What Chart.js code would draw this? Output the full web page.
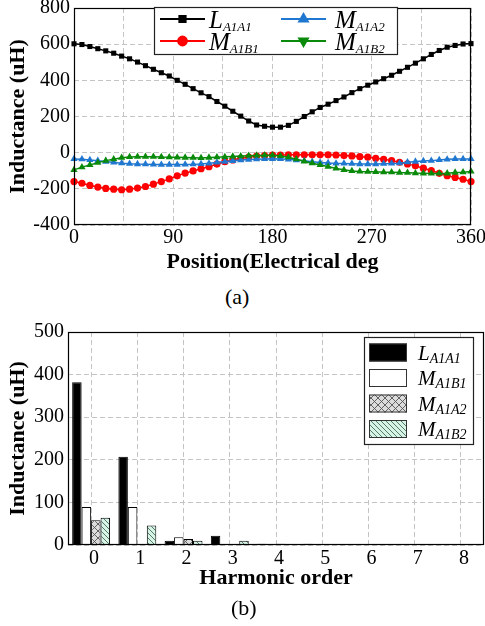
<!DOCTYPE html>
<html>
<head>
<meta charset="utf-8">
<script src="https://cdn.jsdelivr.net/npm/chart.js@4.4.1/dist/chart.umd.min.js"></script>
<style>
  body { margin: 0; background: #fff; }
  #wrap { position: relative; width: 485px; height: 626px; font-family: 'Liberation Serif', serif; }
  canvas { position: absolute; left: 0; }
  .cap { position: absolute; font-size: 22px; color: #000; line-height: 24px; }
</style>
</head>
<body>
<div id="wrap">
  <canvas id="lineChart" width="485" height="282" style="top:0"></canvas>
  <div class="cap" style="left:225px;top:285px">(a)</div>
  <canvas id="barChart" width="485" height="326" style="top:300px"></canvas>
  <div class="cap" style="left:231px;top:596px">(b)</div>
</div>
<script>
// rotor position, electrical degrees
const positions = [0, 7.2, 14.4, 21.6, 28.8, 36, 43.2, 50.4, 57.6, 64.8, 72, 79.2, 86.4, 93.6, 100.8,
  108, 115.2, 122.4, 129.6, 136.8, 144, 151.2, 158.4, 165.6, 172.8, 180, 187.2, 194.4, 201.6, 208.8,
  216, 223.2, 230.4, 237.6, 244.8, 252, 259.2, 266.4, 273.6, 280.8, 288, 295.2, 302.4, 309.6, 316.8,
  324, 331.2, 338.4, 345.6, 352.8, 360];

// inductances vs position (uH)
const L_A1A1 = [602, 598, 587, 575, 563, 550, 534, 519, 501, 481, 461, 442, 424, 400, 378, 354, 331,
  310, 283, 257, 229, 202, 175, 153, 146, 141, 141, 151, 173, 200, 226, 250, 268, 288, 308, 332, 354,
  373, 391, 409, 428, 450, 472, 495, 519, 543, 565, 583, 593, 601, 603];
const M_A1B1 = [-160, -169, -181, -190, -198, -202, -205, -202, -196, -187, -174, -160, -145, -128,
  -113, -101, -89, -78, -63, -50, -40, -31, -24, -19, -16, -14, -13, -12, -12, -12, -12, -12, -12, -13,
  -16, -18, -22, -25, -31, -37, -44, -53, -62, -73, -86, -99, -114, -127, -137, -147, -160];
const M_A1A2 = [-35, -36, -40, -44, -49, -54, -58, -61, -63, -64, -65, -66, -66, -66, -65, -64, -62,
  -59, -54, -49, -45, -41, -38, -36, -35, -34, -35, -37, -41, -45, -50, -54, -57, -59, -60, -61, -63,
  -63, -63, -61, -60, -58, -53, -49, -46, -44, -40, -37, -35, -35, -35];
const M_A1B2 = [-95, -80, -68, -55, -44, -36, -28, -24, -22, -22, -22, -24, -25, -26, -27, -28, -29,
  -27, -25, -23, -21, -19, -17, -15, -14, -14, -18, -25, -36, -48, -58, -68, -77, -87, -95, -101, -104,
  -105, -106, -108, -108, -110, -111, -113, -114, -115, -115, -114, -110, -108, -104];

// harmonic amplitudes (uH)
const harmonics = ['0', '1', '2', '3', '4', '5', '6', '7', '8'];
const harmL_A1A1 = [382, 207, 10, 22, 3, 3, 0, 0, 0];
const harmM_A1B1 = [89, 89, 18, 2, 0, 2, 0, 0, 0];
const harmM_A1A2 = [58, 0, 14, 0, 3, 0, 0, 0, 0];
const harmM_A1B2 = [64, 46, 10, 10, 2, 0, 0, 0, 0];

const FONT = "'Liberation Serif', 'Times New Roman', serif";
Chart.defaults.color = '#000';
Chart.defaults.font.family = FONT;

const tickFont = { family: FONT, size: 20 };
const titleFont = { family: FONT, size: 22, weight: 'bold' };
const gridOpts = { color: '#c4c4c4', lineWidth: 1, drawTicks: false };
const dashBorder = { display: false, dash: [5, 3] };

// black frame around the plot area
const boxPlugin = {
  id: 'box',
  afterDraw(chart) {
    const a = chart.chartArea, ctx = chart.ctx;
    ctx.save();
    ctx.strokeStyle = '#000';
    ctx.lineWidth = 1.2;
    ctx.strokeRect(Math.round(a.left) + 0.5, Math.round(a.top) + 0.5,
      Math.round(a.right - a.left) - 1, Math.round(a.bottom - a.top) - 1);
    ctx.restore();
  }
};

// italic name with a subscript, e.g. L_A1A1
function drawName(ctx, x, y, main, sub, mainSize, subSize) {
  ctx.fillStyle = '#000';
  ctx.textBaseline = 'alphabetic';
  ctx.textAlign = 'left';
  ctx.font = `italic ${mainSize}px ${FONT}`;
  ctx.fillText(main, x, y);
  const w = ctx.measureText(main).width;
  ctx.font = `italic ${subSize}px ${FONT}`;
  ctx.fillText(sub, x + w, y + 3);
}

function pts(ys) {
  return positions.map((p, i) => ({ x: p, y: ys[i] }));
}

const lineSeries = [
  { main: 'L', sub: 'A1A1', data: L_A1A1, color: '#000000', style: 'rect', r: 3.6, rot: 0, legendRot: 0 },
  { main: 'M', sub: 'A1B1', data: M_A1B1, color: '#ff0000', style: 'circle', r: 3.6, rot: 0, legendRot: 0 },
  { main: 'M', sub: 'A1A2', data: M_A1A2, color: '#1f77d0', style: 'triangle', r: 4.2, rot: 0, legendRot: 0 },
  { main: 'M', sub: 'A1B2', data: M_A1B2, color: '#0a8a0a', style: 'triangle', r: 4.2, rot: 0, legendRot: 180 }
];

const lineLegend = {
  id: 'lineLegend',
  afterDraw(chart) {
    const ctx = chart.ctx;
    ctx.save();
    ctx.fillStyle = '#fff';
    ctx.fillRect(154, 7, 244, 48);
    ctx.strokeStyle = '#222';
    ctx.lineWidth = 1.2;
    ctx.strokeRect(154.5, 7.5, 243, 47);
    // column-major: L, M_A1B1 left; M_A1A2, M_A1B2 right
    const slots = [[160, 19], [160, 41], [281, 19], [281, 41]];
    const textX = [209, 209, 335, 335];
    lineSeries.forEach((s, i) => {
      const [x0, y] = slots[i];
      ctx.strokeStyle = s.color;
      ctx.fillStyle = s.color;
      ctx.lineWidth = 2;
      ctx.beginPath();
      ctx.moveTo(x0, y);
      ctx.lineTo(x0 + 45, y);
      ctx.stroke();
      Chart.helpers.drawPoint(ctx, { pointStyle: s.style, radius: s.r + 0.8, rotation: s.legendRot, borderWidth: 1 }, x0 + 22.5, y);
      drawName(ctx, textX[i], y + 9, s.main, s.sub, 25, 13);
    });
    ctx.restore();
  }
};

new Chart(document.getElementById('lineChart'), {
  type: 'line',
  data: {
    datasets: lineSeries.map((s, i) => ({
      label: s.main + s.sub,
      data: pts(s.data),
      borderColor: s.color,
      backgroundColor: s.color,
      borderWidth: 1.5,
      pointStyle: s.style,
      pointRadius: s.r,
      pointRotation: s.rot,
      pointBorderWidth: 0,
      tension: 0,
      order: 3 - i,
      clip: 6
    }))
  },
  options: {
    responsive: false,
    animation: false,
    devicePixelRatio: 1,
    layout: { padding: { top: 8, right: 14, bottom: 0, left: 0 } },
    plugins: { legend: { display: false }, tooltip: { enabled: false } },
    scales: {
      x: {
        type: 'linear', min: 0, max: 360,
        ticks: { stepSize: 45, font: tickFont, padding: 1, maxRotation: 0, autoSkip: false,
          callback: v => (v % 90 === 0 ? v : '') },
        grid: gridOpts,
        border: dashBorder,
        title: { display: true, text: 'Position(Electrical deg', font: titleFont, padding: 6 },
        afterFit(s) { s.height = 57; s.paddingLeft = 0; s.paddingRight = 0; }
      },
      y: {
        min: -400, max: 800,
        ticks: { stepSize: 200, font: tickFont, padding: 4 },
        grid: gridOpts,
        border: dashBorder,
        title: { display: true, text: 'Inductance (uH)', font: titleFont, padding: 5 },
        afterFit(s) { s.width = 74; s.paddingTop = 0; s.paddingBottom = 0; }
      }
    }
  },
  plugins: [boxPlugin, lineLegend]
});

// fill patterns for the bar chart
function hatch(size, bg, fg, cross) {
  const c = document.createElement('canvas');
  c.width = c.height = size;
  const g = c.getContext('2d');
  g.fillStyle = bg;
  g.fillRect(0, 0, size, size);
  g.strokeStyle = fg;
  g.lineWidth = 0.9;
  g.beginPath();
  g.moveTo(-1, -1); g.lineTo(size + 1, size + 1);
  g.moveTo(-1, size - 1); g.lineTo(1, size + 1);
  g.moveTo(size - 1, -1); g.lineTo(size + 1, 1);
  if (cross) {
    g.moveTo(size + 1, -1); g.lineTo(-1, size + 1);
    g.moveTo(-1, 1); g.lineTo(1, -1);
    g.moveTo(size - 1, size + 1); g.lineTo(size + 1, size - 1);
  }
  g.stroke();
  return g.createPattern(c, 'repeat');
}

const crossFill = hatch(7, '#dcdcdc', '#555', true);
const diagFill = hatch(5, '#d6f4e6', '#4d6b5c', false);

const barSeries = [
  { main: 'L', sub: 'A1A1', data: harmL_A1A1, fill: '#000' },
  { main: 'M', sub: 'A1B1', data: harmM_A1B1, fill: '#fff' },
  { main: 'M', sub: 'A1A2', data: harmM_A1A2, fill: crossFill },
  { main: 'M', sub: 'A1B2', data: harmM_A1B2, fill: diagFill }
];

const barLegend = {
  id: 'barLegend',
  afterDraw(chart) {
    const ctx = chart.ctx;
    ctx.save();
    ctx.fillStyle = '#fff';
    ctx.fillRect(364, 37, 110, 108);
    ctx.strokeStyle = '#222';
    ctx.lineWidth = 1.2;
    ctx.strokeRect(364.5, 37.5, 109, 107);
    const rows = [52.5, 78, 103.5, 129];
    barSeries.forEach((s, i) => {
      const y = rows[i];
      ctx.fillStyle = s.fill;
      ctx.fillRect(369, y - 9, 38, 18);
      ctx.strokeStyle = '#333';
      ctx.lineWidth = 1;
      ctx.strokeRect(369.5, y - 8.5, 37, 17);
      drawName(ctx, 418, y + 7, s.main, s.sub, 21, 14);
    });
    ctx.restore();
  }
};

new Chart(document.getElementById('barChart'), {
  type: 'bar',
  data: {
    labels: harmonics,
    datasets: barSeries.map(s => ({
      label: s.main + s.sub,
      data: s.data,
      backgroundColor: s.fill,
      borderColor: '#000',
      borderWidth: 1,
      barPercentage: 1,
      categoryPercentage: 0.82
    }))
  },
  options: {
    responsive: false,
    animation: false,
    devicePixelRatio: 1,
    layout: { padding: { top: 32, right: 1, bottom: 0, left: 0 } },
    plugins: { legend: { display: false }, tooltip: { enabled: false } },
    scales: {
      x: {
        ticks: { font: tickFont, padding: 2, maxRotation: 0, labelOffset: 3 },
        grid: { ...gridOpts, offset: false },
        border: dashBorder,
        title: { display: true, text: 'Harmonic order', font: titleFont, padding: 34 },
        afterFit(s) { s.height = 81; s.paddingLeft = 0; s.paddingRight = 0; }
      },
      y: {
        min: 0, max: 500,
        ticks: { stepSize: 100, font: tickFont, padding: 4 },
        grid: gridOpts,
        border: dashBorder,
        title: { display: true, text: 'Inductance (uH)', font: titleFont, padding: 5 },
        afterFit(s) { s.width = 68; s.paddingTop = 0; s.paddingBottom = 0; }
      }
    }
  },
  plugins: [boxPlugin, barLegend]
});
</script>
</body>
</html>
